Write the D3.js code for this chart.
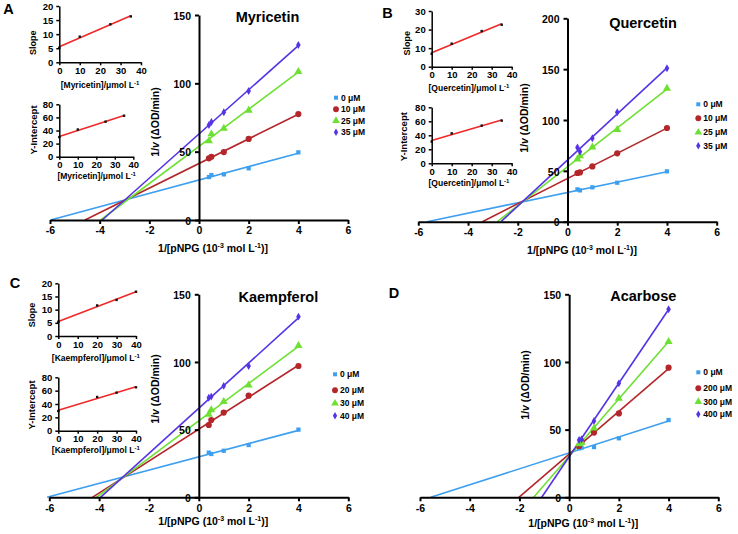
<!DOCTYPE html>
<html><head><meta charset="utf-8">
<script src="https://cdn.jsdelivr.net/npm/d3@7"></script>
<style>
body{margin:0;background:#fff}
svg text{font-family:"Liberation Sans",Arial,sans-serif;font-weight:bold;fill:#000}
</style></head>
<body><svg id="c" width="738" height="534"></svg>
<script>
// ---------------- data ----------------
const xInv = [0.4, 0.5, 1, 2, 4];            // 1/[pNPG]
const mainXTicks = [-6, -4, -2, 0, 2, 4, 6];

const myrLabels = ["0 μM", "10 μM", "25 μM", "35 μM"];
const myr0  = [31.4, 32.9, 33.4, 37.8, 49.5];
const myr10 = [45.1, 46.3, 49.7, 59.3, 77.5];
const myr25 = [57.8, 62.9, 67.0, 80.2, 108.5];
const myr35 = [69.5, 71.7, 78.8, 94.4, 128.0];

const queLabels = ["0 μM", "10 μM", "25 μM", "35 μM"];
const que0  = [31.8, 30.8, 33.8, 38.3, 49.5];
const que10 = [47.9, 48.5, 54.4, 67.2, 92.1];
const que25 = [61.4, 64.6, 73.2, 90.5, 131.1];
const que35 = [72.9, 68.9, 82.0, 107.6, 150.9];

const kaeLabels = ["0 μM", "20 μM", "30 μM", "40 μM"];
const kae0  = [33.0, 32.0, 34.4, 38.6, 50.0];
const kae20 = [53.4, 57.1, 62.6, 75.1, 97.0];
const kae30 = [61.3, 64.5, 70.7, 82.9, 112.0];
const kae40 = [73.6, 74.4, 82.3, 97.0, 133.5];

const acaLabels = ["0 μM", "200 μM", "300 μM", "400 μM"];
const aca0   = [36.2, 36.7, 37.1, 43.6, 57.1];
const aca200 = [37.9, 41.1, 47.8, 62.0, 95.8];
const aca300 = [39.4, 40.4, 51.0, 73.1, 115.0];
const aca400 = [42.3, 42.9, 56.4, 84.2, 139.0];

// secondary plots
const myrConc = [0, 10, 25, 35];
const myrSlope = [5.2, 9.1, 13.5, 16.3];
const myrYint = [30.0, 41.5, 53.5, 62.5];
const queConc = [0, 10, 25, 35];
const queSlope = [7.0, 12.4, 19.2, 22.6];
const queYint = [31.0, 42.8, 53.8, 61.0];
const kaeConc = [0, 20, 30, 40];
const kaeSlope = [5.4, 11.6, 13.7, 16.8];
const kaeYint = [29.5, 50.5, 57.0, 65.0];

const insetXTicks = [0, 10, 20, 30, 40];
const slopeTicks20 = [0, 5, 10, 15, 20];
const slopeTicks30 = [0, 10, 20, 30];
const yintTicks = [0, 20, 40, 60, 80];

// ---------------- styles ----------------
const colors = ["#3d9ff0", "#b3262a", "#6ee033", "#5534e6"];
const symbols = [d3.symbolSquare, d3.symbolCircle, d3.symbolTriangle, d3.symbolDiamond];
const symSizes = [18, 30, 28, 18];

const svg = d3.select("#c");
const marksLayer = svg.append("g");
const textLayer = svg.append("g");
const axisLayer = svg.append("g");

function regress(xs, ys) {
  const mx = d3.mean(xs), my = d3.mean(ys);
  let sxy = 0, sxx = 0;
  xs.forEach((x, i) => { sxy += (x - mx) * (ys[i] - my); sxx += (x - mx) * (x - mx); });
  const m = sxy / sxx;
  return { m, b: my - m * mx };
}

function styleAxis(g, fs, sw) {
  g.select(".domain").attr("stroke", "#000").attr("stroke-width", sw);
  g.selectAll(".tick line").attr("stroke", "#000").attr("stroke-width", sw);
  g.selectAll(".tick text").attr("font-size", fs).attr("font-family", "Liberation Sans, Arial, sans-serif").attr("font-weight", "bold").attr("fill", "#000");
}

function mainPanel(p) {
  const x = d3.scaleLinear().domain([-6, 6]).range([p.x0, p.x1]);
  const y = d3.scaleLinear().domain([0, p.ymax]).range([p.yb, p.yt]);
  const g = marksLayer.append("g");
  const t = textLayer.append("g");
  const a = axisLayer.append("g");

  // series
  p.series.forEach((s, i) => {
    const { m, b } = regress(xInv, s);
    const xs = -b / m;
    g.append("line")
      .attr("x1", x(xs)).attr("y1", y(0)).attr("x2", x(4)).attr("y2", y(m * 4 + b))
      .attr("stroke", colors[i]).attr("stroke-width", 1.6);
  });
  p.series.forEach((s, i) => {
    g.append("g").selectAll("path").data(xInv.map((d, j) => [d, s[j]])).join("path")
      .attr("transform", d => `translate(${x(d[0])},${y(d[1])})`)
      .attr("d", d3.symbol(symbols[i], symSizes[i]))
      .attr("fill", colors[i]);
  });

  // title
  t.append("text").attr("x", p.tx).attr("y", p.ty).attr("text-anchor", "middle")
    .attr("dominant-baseline", "central").attr("font-size", 14.5).text(p.title);
  // panel letter
  t.append("text").attr("x", p.lx).attr("y", p.ly).attr("text-anchor", "middle")
    .attr("dominant-baseline", "central").attr("font-size", 14.5).text(p.letter);

  // legend
  p.labels.forEach((lab, i) => {
    const yy = p.legY[i];
    t.append("path").attr("transform", `translate(${p.legX},${yy})`)
      .attr("d", d3.symbol(symbols[i], symSizes[i] * 0.9)).attr("fill", colors[i]);
    t.append("text").attr("x", p.legX + 5).attr("y", yy).attr("dominant-baseline", "central")
      .attr("font-size", 8.5).text(lab);
  });

  // y label
  const yl = t.append("text").attr("transform", `translate(${p.ylx},${p.yly}) rotate(-90)`)
    .attr("text-anchor", "middle").attr("dominant-baseline", "central").attr("font-size", 10.5);
  yl.append("tspan").text("1/");
  yl.append("tspan").attr("font-style", "italic").text("v");
  yl.append("tspan").text(" (ΔOD/min)");

  // x label
  const xl = t.append("text").attr("x", p.xlx).attr("y", p.xly).attr("text-anchor", "middle")
    .attr("font-size", 10.5);
  xl.append("tspan").text("1/[pNPG (10");
  xl.append("tspan").attr("font-size", 7).attr("dy", -4).text("-3");
  xl.append("tspan").attr("dy", 4).text(" mol L");
  xl.append("tspan").attr("font-size", 7).attr("dy", -4).text("-1");
  xl.append("tspan").attr("dy", 4).text(")]");

  // axes (drawn last, on top)
  const gy = a.append("g").attr("transform", `translate(${x(0)},0)`)
    .call(d3.axisLeft(y).tickValues(d3.range(0, p.ymax + 1, 50)).tickSize(4).tickSizeOuter(0).tickPadding(4).tickFormat(d => String(d)));
  styleAxis(gy, 10.5, 2);
  gy.selectAll(".tick text").attr("dy", "0.4em");
  const gx = a.append("g").attr("transform", `translate(0,${y(0)})`)
    .call(d3.axisBottom(x).tickValues(mainXTicks).tickSize(4).tickSizeOuter(0).tickPadding(3).tickFormat(d => String(d)));
  styleAxis(gx, 10.5, 2);
}

function inset(p) {
  const x = d3.scaleLinear().domain([0, 40]).range([p.x0, p.x1]);
  const y = d3.scaleLinear().domain([0, p.ymax]).range([p.yb, p.yt]);
  const g = marksLayer.append("g");
  const t = textLayer.append("g");
  const a = axisLayer.append("g");

  const { m, b } = regress(p.conc, p.vals);
  g.append("line").attr("x1", x(0)).attr("y1", y(b))
    .attr("x2", x(d3.max(p.conc))).attr("y2", y(b + m * d3.max(p.conc)))
    .attr("stroke", "#f02828").attr("stroke-width", 1.6);
  g.append("g").selectAll("rect").data(p.conc.map((c, i) => [c, p.vals[i]])).join("rect")
    .attr("x", d => x(d[0]) - 1.2).attr("y", d => y(d[1]) - 1.2)
    .attr("width", 2.4).attr("height", 2.4).attr("fill", "#111");

  t.append("text").attr("transform", `translate(${p.ylx},${p.yly}) rotate(-90)`)
    .attr("text-anchor", "middle").attr("dominant-baseline", "central")
    .attr("font-size", p.ylfs).text(p.ylabel);
  const xl = t.append("text").attr("x", p.xlx).attr("y", p.xly + 3).attr("text-anchor", "middle")
    .attr("font-size", 8.5);
  xl.append("tspan").text(`[${p.comp}]/μmol L`);
  xl.append("tspan").attr("font-size", 6).attr("dy", -3).text("-1");

  const gx = a.append("g").attr("transform", `translate(0,${p.yb})`)
    .call(d3.axisBottom(x).tickValues(insetXTicks).tickSize(3).tickSizeOuter(0).tickPadding(2).tickFormat(d => String(d)));
  styleAxis(gx, 9.5, 1.5);
  const gy = a.append("g").attr("transform", `translate(${p.x0},0)`)
    .call(d3.axisLeft(y).tickValues(p.yticks).tickSize(3).tickSizeOuter(0).tickPadding(3).tickFormat(d => String(d)));
  styleAxis(gy, 9.5, 1.5);
}

// ---------------- panels ----------------
mainPanel({ x0: 50, x1: 348, yb: 220, yt: 15, ymax: 150, series: [myr0, myr10, myr25, myr35], labels: myrLabels,
  title: "Myricetin", tx: 267.5, ty: 17, letter: "A", lx: 8.5, ly: 8.5,
  legX: 336, legY: [97.7, 109.2, 120.7, 132.2], ylx: 155, yly: 122, xlx: 213, xly: 252 });
mainPanel({ x0: 418.3, x1: 716.7, yb: 221.7, yt: 18.3, ymax: 200, series: [que0, que10, que25, que35], labels: queLabels,
  title: "Quercetin", tx: 643, ty: 23.3, letter: "B", lx: 387.5, ly: 12.5,
  legX: 698.3, legY: [104.3, 118.3, 132.3, 145.7], ylx: 524, yly: 118, xlx: 582, xly: 253.5 });
mainPanel({ x0: 49.3, x1: 348.3, yb: 497.3, yt: 294.3, ymax: 150, series: [kae0, kae20, kae30, kae40], labels: kaeLabels,
  title: "Kaempferol", tx: 278.3, ty: 296.7, letter: "C", lx: 15, ly: 282.5,
  legX: 335, legY: [374.3, 390.3, 403.3, 415.7], ylx: 155, yly: 389, xlx: 213.3, xly: 525.2 });
mainPanel({ x0: 420, x1: 718.3, yb: 497.3, yt: 294.3, ymax: 150, series: [aca0, aca200, aca300, aca400], labels: acaLabels,
  title: "Acarbose", tx: 643.3, ty: 295.7, letter: "D", lx: 394, ly: 292.5,
  legX: 698.3, legY: [372.3, 388.3, 401.7, 414.3], ylx: 524.5, yly: 385, xlx: 583.3, xly: 526.8 });

inset({ x0: 59.3, x1: 141, yb: 62.3, yt: 6, ymax: 20, yticks: slopeTicks20, conc: myrConc, vals: myrSlope,
  ylabel: "Slope", ylfs: 9, ylx: 33.3, yly: 42.7, comp: "Myricetin", xlx: 100, xly: 85 });
inset({ x0: 59.3, x1: 133.3, yb: 156.7, yt: 104.3, ymax: 80, yticks: yintTicks, conc: myrConc, vals: myrYint,
  ylabel: "Y-Intercept", ylfs: 9.5, ylx: 33.3, yly: 130, comp: "Myricetin", xlx: 96.7, xly: 176 });
inset({ x0: 431.7, x1: 511.7, yb: 66.7, yt: 11, ymax: 30, yticks: slopeTicks30, conc: queConc, vals: queSlope,
  ylabel: "Slope", ylfs: 9, ylx: 406.7, yly: 43.3, comp: "Quercetin", xlx: 469, xly: 88.3 });
inset({ x0: 431.7, x1: 511.7, yb: 163.3, yt: 107.3, ymax: 80, yticks: yintTicks, conc: queConc, vals: queYint,
  ylabel: "Y-Intercept", ylfs: 9.5, ylx: 403.3, yly: 136.7, comp: "Quercetin", xlx: 469, xly: 183.3 });
inset({ x0: 58.3, x1: 136, yb: 336, yt: 283.3, ymax: 20, yticks: slopeTicks20, conc: kaeConc, vals: kaeSlope,
  ylabel: "Slope", ylfs: 9, ylx: 31.7, yly: 315, comp: "Kaempferol", xlx: 95.8, xly: 358.3 });
inset({ x0: 58.3, x1: 136, yb: 430.7, yt: 377.3, ymax: 80, yticks: yintTicks, conc: kaeConc, vals: kaeYint,
  ylabel: "Y-Intercept", ylfs: 9.5, ylx: 31.7, yly: 405, comp: "Kaempferol", xlx: 95.8, xly: 450 });
</script>
</body></html>
